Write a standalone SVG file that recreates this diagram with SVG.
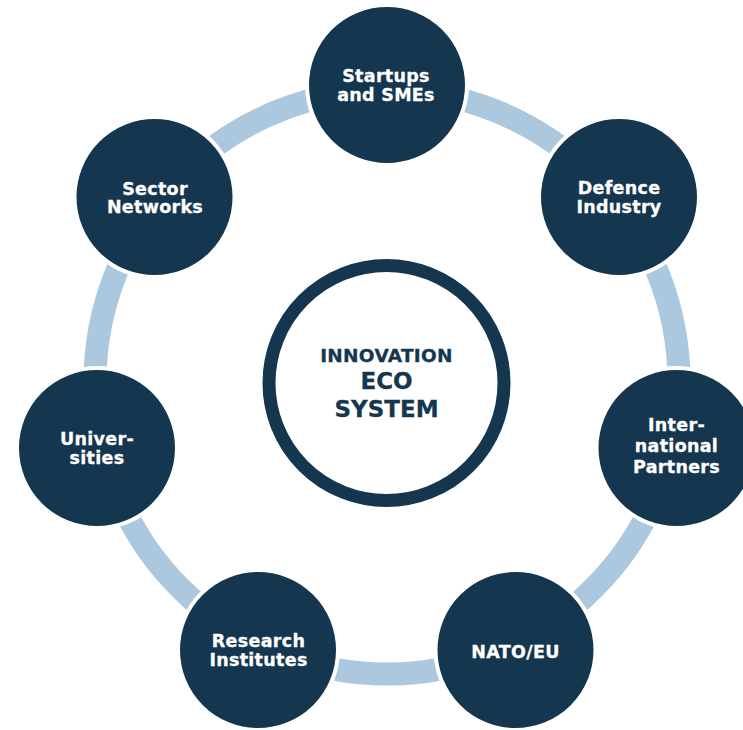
<svg xmlns="http://www.w3.org/2000/svg" width="743" height="730" viewBox="0 0 743 730">
<style>
.sat{fill:#15364f;stroke:#ffffff;stroke-width:4}
.lbl{font-family:"DejaVu Sans","Verdana",sans-serif;font-weight:bold;font-size:17.5px;fill:#ffffff;stroke:#ffffff;stroke-width:0.3;letter-spacing:0.3px;text-anchor:middle}
.ctr{font-family:"DejaVu Sans","Verdana",sans-serif;font-weight:bold;fill:#15364f;stroke:#15364f;stroke-width:0.3;text-anchor:middle}
</style>
<rect width="743" height="730" fill="#ffffff"/>
<g id="connectors">
<circle cx="387" cy="382" r="292" fill="none" stroke="#abc8df" stroke-width="23"/>
</g>
<g id="center">
<circle cx="386.5" cy="383" r="117.5" fill="#ffffff" stroke="#15364f" stroke-width="13"/>
<text class="ctr" x="386.5" y="361.5" font-size="18.5" letter-spacing="0.3">INNOVATION</text>
<text class="ctr" x="386.5" y="389" font-size="23">ECO</text>
<text class="ctr" x="386.5" y="417" font-size="23">SYSTEM</text>
</g>
<g id="startups">
<circle class="sat" cx="387" cy="85" r="80"/>
<text class="lbl" x="386" y="82">Startups</text>
<text class="lbl" x="386" y="100.5">and SMEs</text>
</g>
<g id="defence">
<circle class="sat" cx="619" cy="197" r="80"/>
<text class="lbl" x="619" y="194">Defence</text>
<text class="lbl" x="619" y="212.5">Industry</text>
</g>
<g id="international">
<circle class="sat" cx="676.5" cy="448" r="80"/>
<text class="lbl" x="676.5" y="431">Inter-</text>
<text class="lbl" x="676.5" y="452">national</text>
<text class="lbl" x="676.5" y="473">Partners</text>
</g>
<g id="nato">
<circle class="sat" cx="515.5" cy="650" r="80"/>
<text class="lbl" x="515.5" y="658" letter-spacing="1">NATO/EU</text>
</g>
<g id="research">
<circle class="sat" cx="258" cy="650" r="80"/>
<text class="lbl" x="258.5" y="647">Research</text>
<text class="lbl" x="258.5" y="666">Institutes</text>
</g>
<g id="universities">
<circle class="sat" cx="97" cy="448" r="80"/>
<text class="lbl" x="97" y="445">Univer-</text>
<text class="lbl" x="97" y="464">sities</text>
</g>
<g id="sector">
<circle class="sat" cx="154.5" cy="197" r="80"/>
<text class="lbl" x="155" y="194.5">Sector</text>
<text class="lbl" x="155" y="213">Networks</text>
</g>
</svg>
